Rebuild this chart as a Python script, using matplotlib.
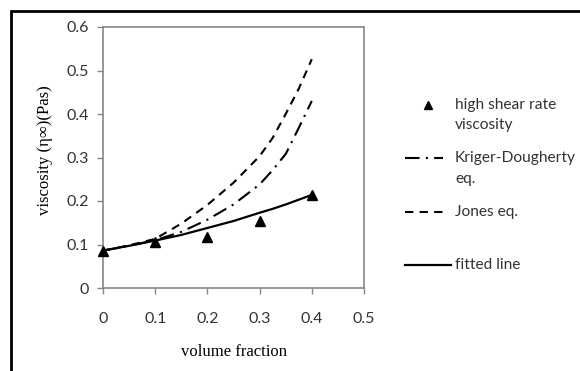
import numpy as np
import matplotlib
matplotlib.use('Agg')
from matplotlib import pyplot as plt
from matplotlib.lines import Line2D
from matplotlib.patches import Rectangle

# measured points (high shear rate viscosity)
phi_meas = [0.0, 0.1, 0.2, 0.3, 0.4]
eta_meas = [0.085, 0.105, 0.117, 0.155, 0.214]

# model curves
phi_curve = [0.0, 0.05, 0.1, 0.15, 0.2, 0.25, 0.3, 0.325, 0.35, 0.375, 0.4]
eta_kd = [0.086, 0.097, 0.110, 0.129, 0.157, 0.192, 0.238, 0.271, 0.308, 0.368, 0.430]
eta_jones = [0.086, 0.098, 0.113, 0.148, 0.191, 0.242, 0.303, 0.345, 0.400, 0.458, 0.526]
eta_fit = [0.086, 0.097, 0.109, 0.122, 0.138, 0.154, 0.173, 0.182, 0.192, 0.203, 0.214]

x_ticks = [0, 0.1, 0.2, 0.3, 0.4, 0.5]
y_ticks = [0, 0.1, 0.2, 0.3, 0.4, 0.5, 0.6]

W, H = 580, 371
tick_font = ['Lato', 'DejaVu Sans']
label_font = ['Liberation Serif', 'DejaVu Serif']
txt_color = '#333333'

fig = plt.figure(figsize=(W / 100, H / 100), dpi=100)
ax = fig.add_axes([103 / W, 1 - 288 / H, (364 - 103) / W, (288 - 27) / H])

ax.plot(phi_curve, eta_kd, color='black', lw=1.5, dashes=(7, 3, 1, 3))
ax.plot(phi_curve, eta_jones, color='black', lw=1.5, dashes=(4, 3))
ax.plot(phi_curve, eta_fit, color='black', lw=1.6)
ax.plot(phi_meas, eta_meas, linestyle='none', marker='^', color='black',
        markersize=6.5, clip_on=False, zorder=5)

ax.set_xlim(0, 0.5)
ax.set_ylim(0, 0.6)
ax.set_xticks(x_ticks)
ax.set_yticks(y_ticks)
ax.set_xticklabels([f'{v:g}' for v in x_ticks], family=tick_font, fontsize=11.5,
                   color=txt_color)
ax.set_yticklabels([f'{v:g}' for v in y_ticks], family=tick_font, fontsize=11.5,
                   color=txt_color)
ax.tick_params(direction='out', length=4, color='#868686', width=1, pad=6)
ax.tick_params(axis='x', pad=13)
for sp in ax.spines.values():
    sp.set_color('#868686')
    sp.set_linewidth(1.2)

fig.text(234 / W, 1 - 352 / H, 'volume fraction', family=label_font,
         fontsize=12, ha='center', va='center')
fig.text(45 / W, 1 - 150 / H, 'viscosity (η∞)(Pas)', family=label_font,
         fontsize=12, ha='center', va='center', rotation=90)

# legend, placed by hand
def fx(px):
    return px / W

def fy(py):
    return 1 - py / H

fig.add_artist(Line2D([fx(428)], [fy(105)], marker='^', color='black',
                      markersize=5.5, linestyle='none'))
fig.add_artist(Line2D([fx(405), fx(443)], [fy(158), fy(158)], color='black',
                      lw=1.5, dashes=(7, 3, 1, 3)))
fig.add_artist(Line2D([fx(405), fx(445)], [fy(212), fy(212)], color='black',
                      lw=1.5, dashes=(4, 3)))
fig.add_artist(Line2D([fx(405), fx(451)], [fy(265), fy(265)], color='black',
                      lw=1.6))

legend_texts = [('high shear rate', 105), ('viscosity', 125),
                ('Kriger-Dougherty', 158), ('eq.', 179),
                ('Jones eq.', 212), ('fitted line', 265)]
for txt, py in legend_texts:
    fig.text(fx(455), fy(py), txt, family=tick_font, fontsize=11.2,
             ha='left', va='center', color=txt_color)

# outer frame (cropped at right and bottom)
fig.add_artist(Rectangle((fx(11), -0.1), 1.2, fy(11) + 0.1,
                         transform=fig.transFigure, fill=False,
                         edgecolor='black', lw=2))

fig.savefig('out.png', dpi=100)
